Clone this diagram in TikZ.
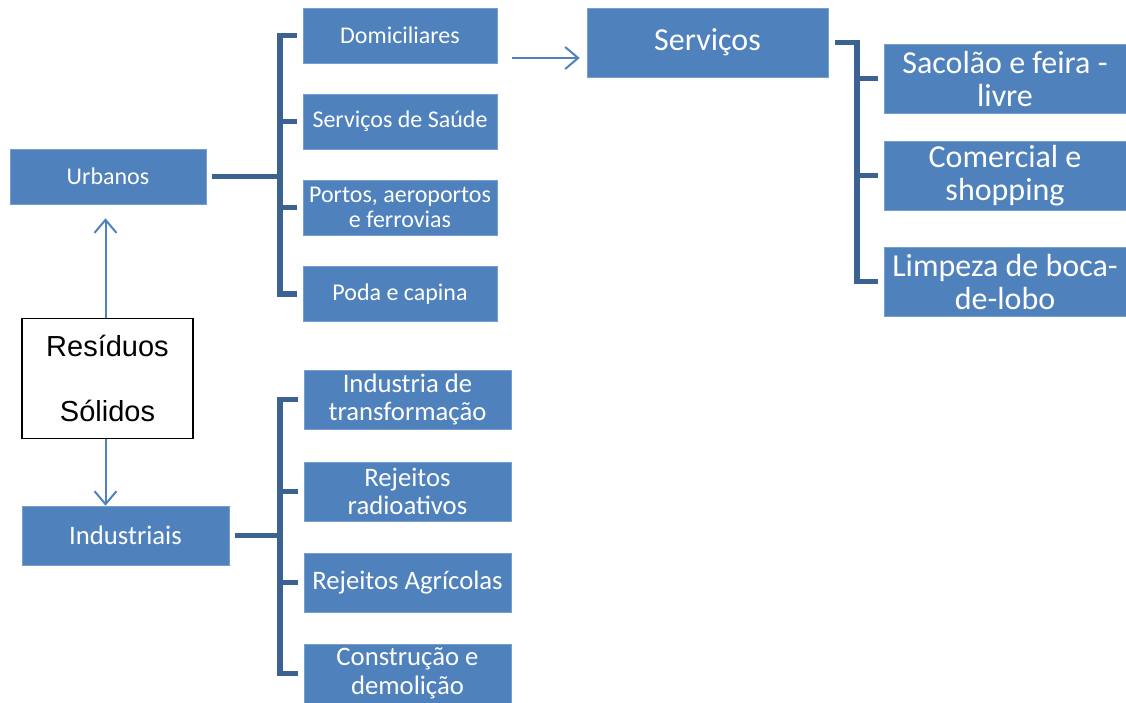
\documentclass[tikz,border=0pt]{standalone}
\usepackage{fontspec}
\setmainfont{Carlito}
\newfontfamily\arialfont{Liberation Sans}
\usetikzlibrary{arrows.meta,positioning,calc}
\definecolor{boxblue}{RGB}{79,129,189}
\definecolor{boxedge}{RGB}{118,158,206}
\definecolor{brkblue}{RGB}{60,98,145}
\tikzset{
  unit/.style={draw=boxedge,line width=0.6pt,fill=boxblue,text=white,inner sep=0pt,align=center},
  small/.style={unit,minimum width=194pt,minimum height=55pt,font=\fontsize{24}{25}\selectfont},
  indleaf/.style={unit,minimum width=207pt,minimum height=59pt,font=\fontsize{26.7}{28.5}\selectfont},
  big/.style={unit,minimum width=242pt,minimum height=69pt,font=\fontsize{32}{33}\selectfont},
  root/.style={draw=black,line width=1.6pt,fill=white,inner sep=0pt,align=center,minimum width=171pt,minimum height=120pt,font=\arialfont\fontsize{29}{65}\selectfont},
  arr/.style={-{Straight Barb[length=13pt,width=22pt,line width=2pt]},draw=boxblue,line width=2pt},
  brk/.style={draw=brkblue,line width=5.5pt}
}

\begin{document}
\begin{tikzpicture}[x=1pt,y=-1pt]
  \useasboundingbox (0,0) rectangle (1126,702);
  % urban branch
  \node[small,minimum width=196pt] (urb) at (108,176.5) {Urbanos};
  \node[small] (dom) at (400,35.5) {Domiciliares};
  \node[small] (saude) at (400,121.5) {Serviços de Saúde};
  \node[small] (portos) at (400,207.5) {Portos, aeroportos\\e ferrovias};
  \node[small] (poda) at (400,294) {Poda e capina};
  % root
  \node[root] (res) at (107.5,378.5) {Resíduos\\Sólidos};
  % industrial branch
  \node[indleaf] (ind) at (125.5,535.5) {Industriais};
  \node[indleaf] (transf) at (407.5,399.5) {Industria de\\transformação};
  \node[indleaf] (radio) at (407.5,491.5) {Rejeitos\\radioativos};
  \node[indleaf] (agri) at (407.5,582.5) {Rejeitos Agrícolas};
  \node[indleaf] (constr) at (407.5,673.5) {Construção e\\demolição};
  % services
  \node[big,minimum width=241pt] (serv) at (707.5,42.5) {\raisebox{-2pt}{Serviços}};
  \node[big] (sacolao) at (1005,78.5) {Sacolão e feira -\\livre};
  \node[big] (comerc) at (1005,175.5) {Comercial e\\shopping};
  \node[big] (limpeza) at (1005,281.5) {Limpeza de boca-\\de-lobo};

  \coordinate (uspine) at (280,0);
  \coordinate (sspine) at (857,0);

  % arrows
  \draw[arr] ([xshift=-2pt]res.north) -- ([xshift=-2pt,yshift=-14pt]res.north |- urb.south);
  \draw[arr] ([xshift=-2pt]res.south) -- ([xshift=-2pt]res.south |- ind.north);
  \draw[arr] ([xshift=15pt,yshift=-22.5pt]dom.east) -- ([xshift=-7pt,yshift=-15.5pt]serv.west);

  % brackets
  \draw[brk] ([xshift=6pt]urb.east) -- (urb.east -| uspine);
  \draw[brk] ([xshift=-6pt]dom.west) -| (uspine |- poda.west) -- ([xshift=-6pt]poda.west);
  \foreach \n in {saude,portos}
    \draw[brk] (uspine |- \n.west) -- ([xshift=-6pt]\n.west);

  \draw[brk] ([xshift=6pt]ind.east) -- (ind.east -| uspine);
  \draw[brk] ([xshift=-6pt]transf.west) -| (uspine |- constr.west) -- ([xshift=-6pt]constr.west);
  \foreach \n in {radio,agri}
    \draw[brk] (uspine |- \n.west) -- ([xshift=-6pt]\n.west);

  \draw[brk] ([xshift=7pt]serv.east) -| (sspine |- limpeza.west) -- ([xshift=-6pt]limpeza.west);
  \foreach \n in {sacolao,comerc}
    \draw[brk] (sspine |- \n.west) -- ([xshift=-6pt]\n.west);
\end{tikzpicture}
\end{document}
